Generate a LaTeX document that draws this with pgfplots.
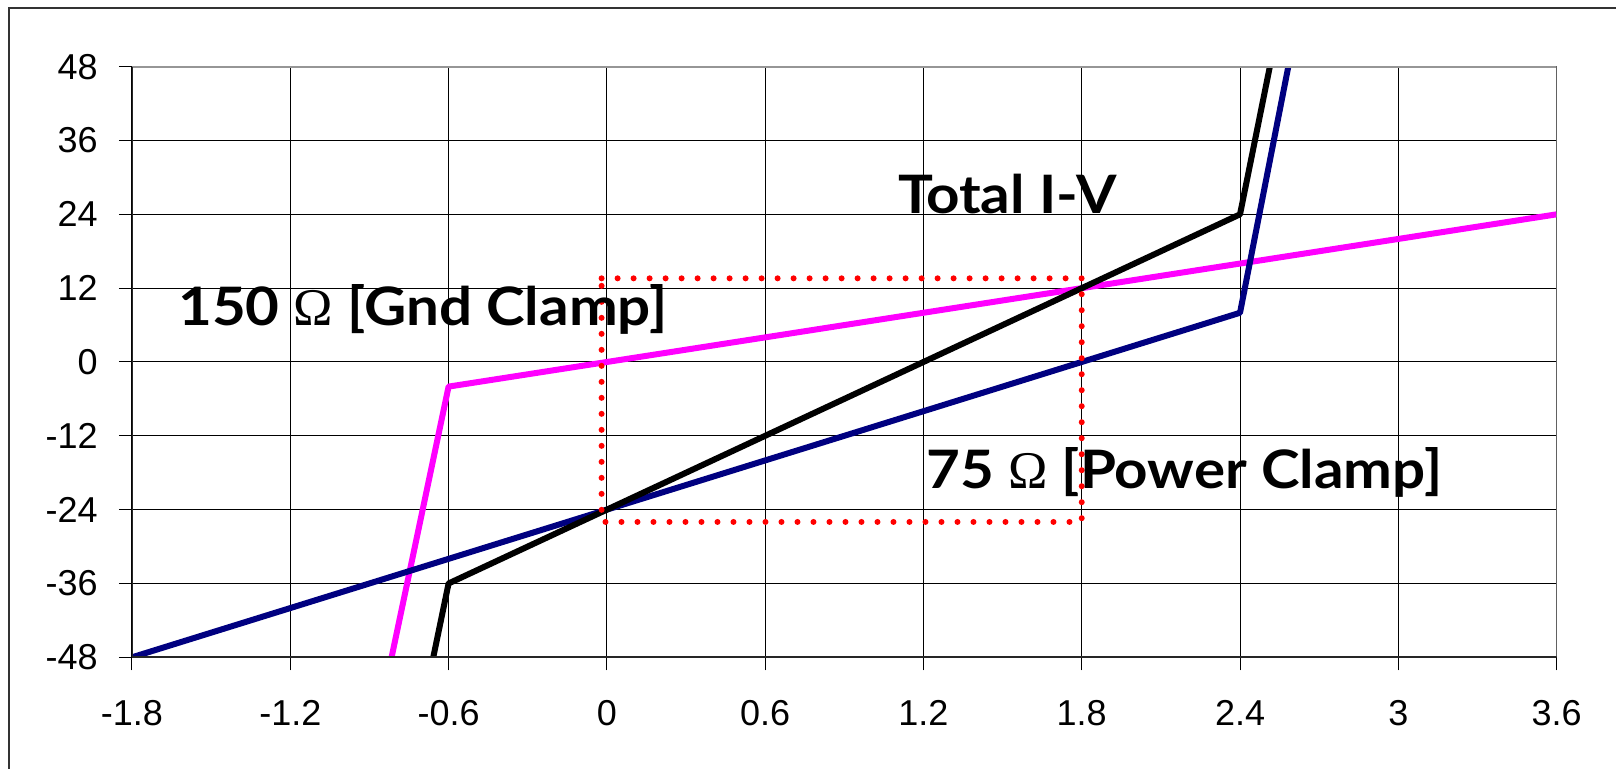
\documentclass[border=0pt]{standalone}
\usepackage{pgfplots}
\pgfplotsset{compat=1.18}
\usepackage{fontspec}
\setmainfont{Liberation Sans}
\newfontfamily\labelfont{Lato}[FakeStretch=1.1]
\newfontfamily\omegafont{Liberation Serif}

\definecolor{clampnavy}{RGB}{0,0,128}
\definecolor{clampmag}{RGB}{255,0,255}
\definecolor{borderg}{RGB}{150,150,150}

\newcommand{\ohm}{{\omegafont\mdseries Ω}}

\begin{document}
\begin{tikzpicture}
\useasboundingbox (0,0) rectangle (808pt,384.5pt);
% outer chart frame (only top and left edges fall inside the page)
\draw[line width=1pt, black!80] (4.5pt,0) -- (4.5pt,380.5pt) -- (808pt,380.5pt);

\begin{axis}[
  at={(66pt,55.85pt)}, anchor=south west,
  scale only axis, width=712.3pt, height=295.3pt,
  xmin=-1.8, xmax=3.6, ymin=-48, ymax=48,
  xtick={-1.8,-1.2,-0.6,0,0.6,1.2,1.8,2.4,3,3.6},
  ytick={-48,-36,-24,-12,0,12,24,36,48},
  xticklabels={-1.8,-1.2,-0.6,0,0.6,1.2,1.8,2.4,3,3.6},
  yticklabels={-48,-36,-24,-12,0,12,24,36,48},
  grid=major,
  major grid style={black, line width=0.5pt},
  tick align=outside,
  major tick length=6.5pt,
  tick style={black, line width=0.5pt},
  xtick pos=bottom, ytick pos=left,
  axis line style={draw=none},
  ticklabel style={font=\fontsize{18}{20}\selectfont},
  xticklabel style={anchor=north, inner sep=0pt, yshift=-15pt},
  yticklabel style={anchor=east, inner sep=0pt, xshift=-10.5pt},
  clip=true,
]
% 150 ohm ground clamp
\addplot[clampmag, line width=3pt, line join=round] coordinates {
  (-0.816,-48) (-0.6,-4) (-0.4,-2.667) (-0.2,-1.333) (0,0) (0.2,1.333)
  (0.4,2.667) (0.6,4) (0.8,5.333) (1.0,6.667) (1.2,8) (1.4,9.333)
  (1.6,10.667) (1.8,12) (2.0,13.333) (2.2,14.667) (2.4,16) (2.6,17.333)
  (2.8,18.667) (3.0,20) (3.2,21.333) (3.4,22.667) (3.6,24)
};
% 75 ohm power clamp
\addplot[clampnavy, line width=3pt, line join=round] coordinates {
  (-1.8,-48) (-1.6,-45.333) (-1.4,-42.667) (-1.2,-40) (-1.0,-37.333)
  (-0.8,-34.667) (-0.6,-32) (-0.4,-29.333) (-0.2,-26.667) (0,-24)
  (0.2,-21.333) (0.4,-18.667) (0.6,-16) (0.8,-13.333) (1.0,-10.667)
  (1.2,-8) (1.4,-5.333) (1.6,-2.667) (1.8,0) (2.0,2.667) (2.2,5.333)
  (2.4,8) (2.583,48)
};
% total I-V
\addplot[black, line width=3pt, line join=round] coordinates {
  (-0.658,-48) (-0.6,-36) (-0.4,-32) (-0.2,-28) (0,-24) (0.2,-20)
  (0.4,-16) (0.6,-12) (0.8,-8) (1.0,-4) (1.2,0) (1.4,4) (1.6,8)
  (1.8,12) (2.0,16) (2.2,20) (2.4,24) (2.513,48)
};
% operating window
\addplot[red, line width=3pt, line cap=round, dash pattern=on 0pt off 8pt]
  coordinates {(-0.02,13.6) (1.8,13.6) (1.8,-26) (-0.02,-26) (-0.02,13.6)};

% plot area border
\draw[borderg, line width=1pt] (rel axis cs:0,1) -- (rel axis cs:1,1) -- (rel axis cs:1,0);
\draw[black!85, line width=1pt] (rel axis cs:0,1) -- (rel axis cs:0,0) -- (rel axis cs:1,0);

\node[anchor=base west, inner sep=0pt, font=\labelfont\bfseries\fontsize{26.5}{28}\selectfont]
  at (axis cs:1.103,24.2) {Total I-V};
\node[anchor=base west, inner sep=0pt, font=\labelfont\bfseries\fontsize{26.5}{28}\selectfont]
  at (axis cs:-1.626,6.0) {150 \ohm\ [Gnd Clamp]};
\node[anchor=base west, inner sep=0pt, font=\labelfont\bfseries\fontsize{26.5}{28}\selectfont]
  at (axis cs:1.21,-20.5) {75 \ohm\ [Power Clamp]};
\end{axis}
\end{tikzpicture}
\end{document}
